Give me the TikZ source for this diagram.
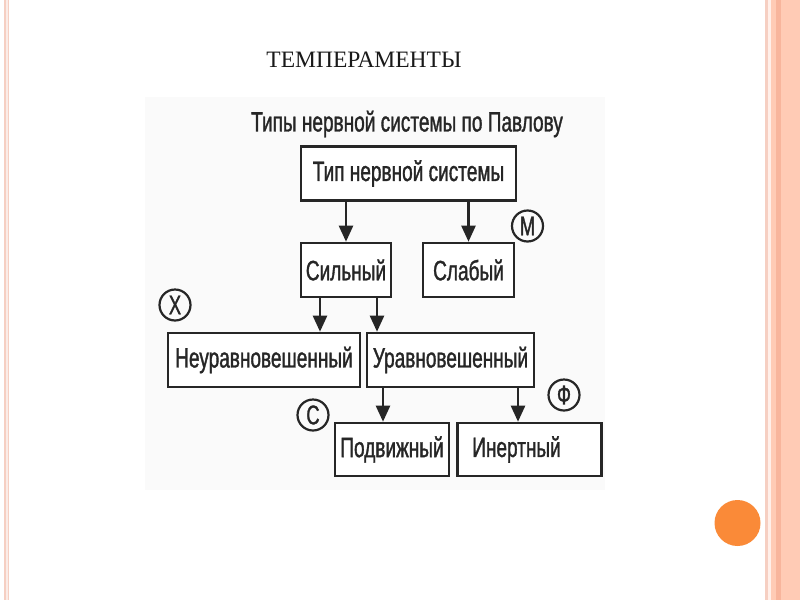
\documentclass[tikz,border=0pt]{standalone}
\usepackage{fontspec}
\setmainfont{Liberation Serif}
\newfontfamily\narrow[FakeStretch=0.68,FakeBold=1.2]{Liberation Sans}
\usetikzlibrary{arrows.meta}
\definecolor{ink}{HTML}{262626}
\definecolor{salmon}{HTML}{FFCBB5}
\definecolor{salmondk}{HTML}{F8B59C}
\definecolor{salmonlt}{HTML}{F6CFC2}
\definecolor{dotorange}{HTML}{FA8A38}
\tikzset{
  box/.style={draw=ink, line width=2.6pt, fill=white, inner sep=0pt, minimum height=54pt, font=\narrow\fontsize{28}{30}\selectfont, text=ink},
  lbl/.style={draw=ink, line width=2.2pt, circle, minimum size=31pt, inner sep=0pt, font=\narrow\fontsize{27}{29}\selectfont, text=ink},
  arr/.style={draw=ink, line width=2.4pt, -{Triangle[length=16pt,width=14pt]}},
}
\begin{document}
\begin{tikzpicture}[x=1pt,y=-1pt]
\useasboundingbox (0,0) rectangle (800,600);
\fill[white] (0,0) rectangle (800,600);
% slide decorations
\fill[salmonlt] (4,0) rectangle (9,600);
\fill[white!60!salmonlt] (5.5,0) rectangle (7.5,600);
\fill[salmonlt] (765,0) rectangle (767.5,600);
\fill[salmon!30] (767.5,0) rectangle (771,600);
\fill[salmon] (771,0) rectangle (800,600);
\fill[salmondk] (776,0) rectangle (781,600);
\fill[dotorange] (737.5,523) circle (23);
% title
\node[font=\fontsize{23.5}{25}\selectfont, text=black!90] (title) at (364,59.5) {ТЕМПЕРАМЕНТЫ};
% scanned image background
\fill[gray!4] (145,97) rectangle (605,490);
% heading
\node[font=\narrow\fontsize{28}{30}\selectfont, text=ink] (head) at (407,124) {Типы нервной системы по Павлову};
% boxes
\node[box, minimum width=215pt] (typ) at (408.5,173.5) {Тип нервной системы};
\node[box, minimum width=90pt] (sil) at (346,270) {Сильный};
\node[box, minimum width=91pt] (sla) at (468.5,270) {Слабый};
\node[box, minimum width=192pt] (neu) at (264,360) {Неуравновешенный};
\node[box, minimum width=167pt] (ura) at (450.5,360) {Уравновешенный};
\node[box, minimum width=114pt, minimum height=53pt] (pod) at (392,449.5) {Подвижный};
\node[box, minimum width=144pt, minimum height=53pt] (ine) at (529.5,449.5) {Инертный\hspace*{26pt}};
% arrows
\draw[arr] (typ.south -| sil.north) -- (sil.north);
\draw[arr] (typ.south -| sla.north) -- (sla.north);
\draw[arr] ([xshift=-26pt]sil.south) -- ([xshift=-26pt]sil.south |- neu.north);
\draw[arr] ([xshift=31pt]sil.south) -- ([xshift=31pt]sil.south |- ura.north);
\draw[arr] ([xshift=-9pt]pod.north |- ura.south) -- ([xshift=-9pt]pod.north);
\draw[arr] ([xshift=-11.5pt]ine.north |- ura.south) -- ([xshift=-11.5pt]ine.north);
% circled letters
\node[lbl] (m) at (527.5,226) {М};
\node[lbl] (x) at (175,305) {Х};
\node[lbl] (c) at (313,415) {С};
\node[lbl] (f) at (564,395) {Ф};
\end{tikzpicture}
\end{document}
